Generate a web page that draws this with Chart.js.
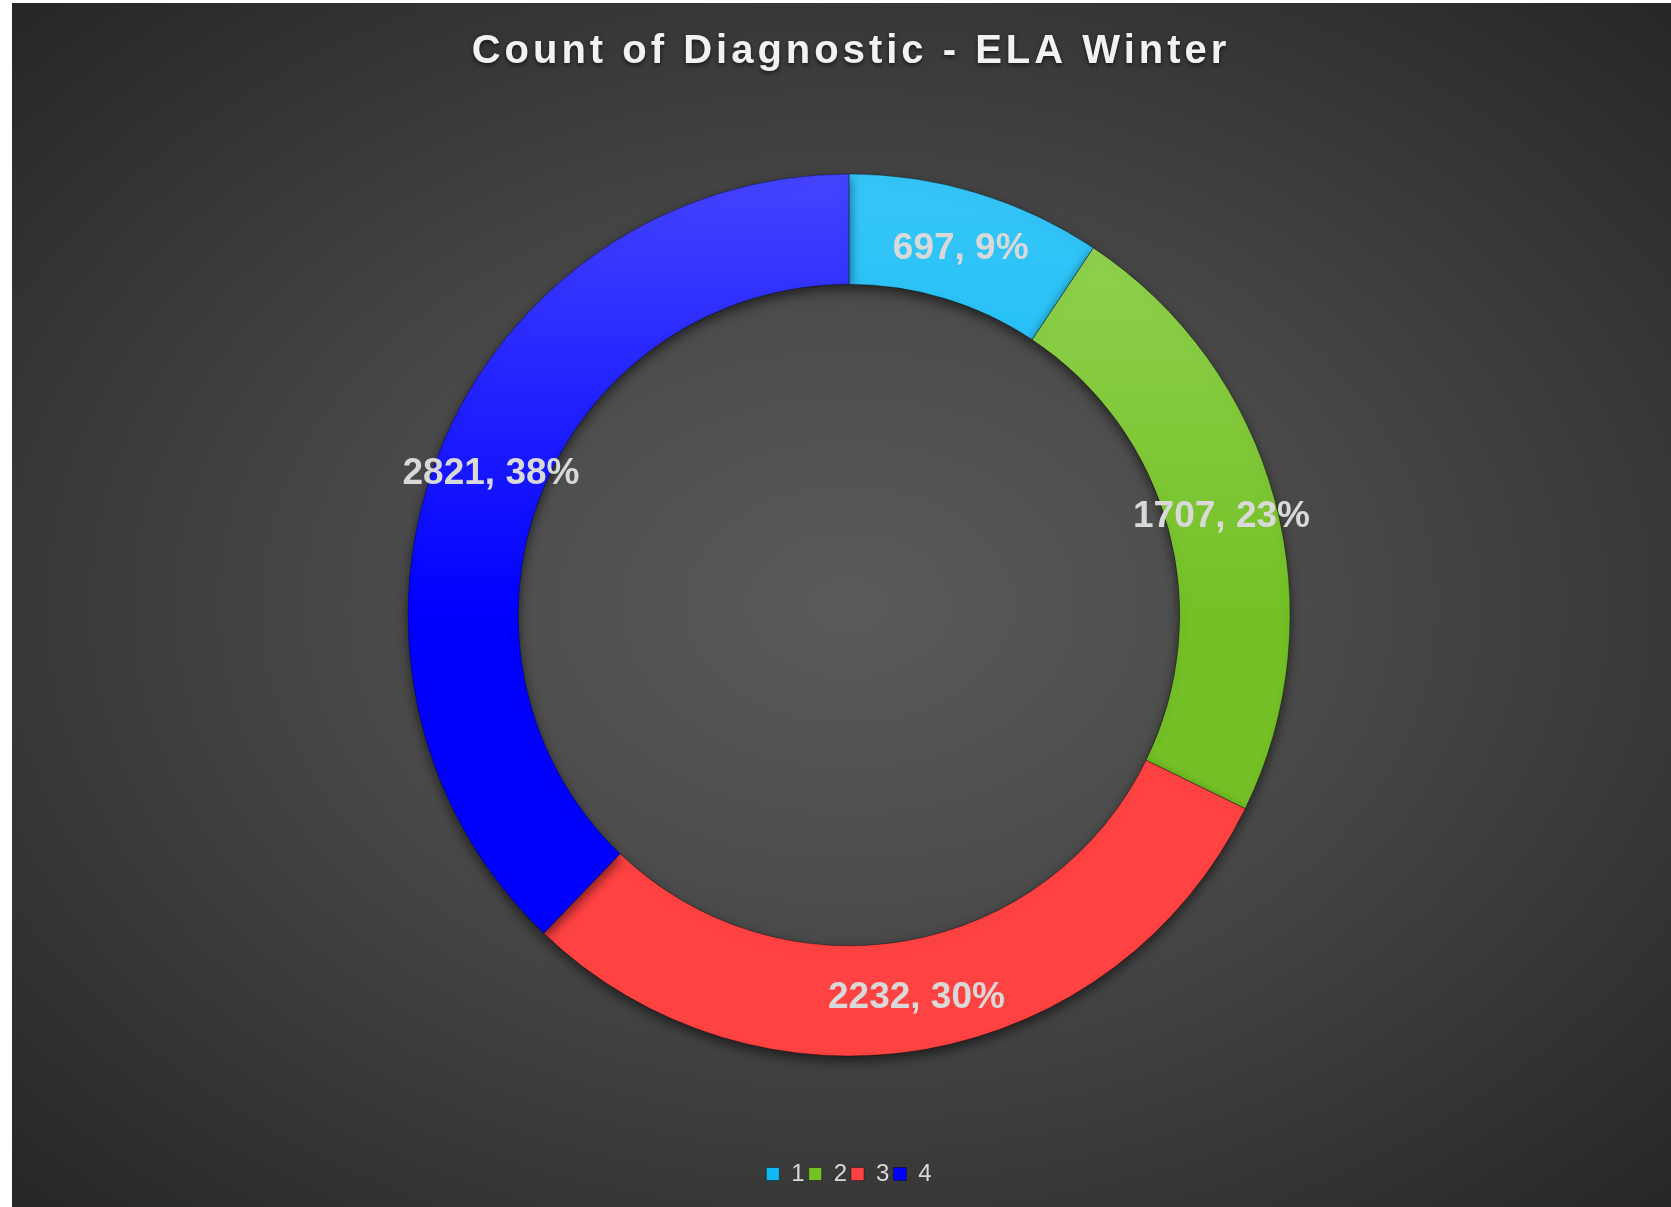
<!DOCTYPE html>
<html><head><meta charset="utf-8">
<script src="https://cdn.jsdelivr.net/npm/chart.js@4.4.1/dist/chart.umd.min.js"></script>
<style>
html,body{margin:0;padding:0;background:#fff;overflow:hidden;width:1671px;height:1207px;}
#wrap{position:absolute;left:12px;top:3px;width:1674px;height:1204px;
background:radial-gradient(ellipse farthest-corner at 50% 50%, #5a5a5a 0%, #4c4c4c 35%, #262626 100%);}
</style></head><body>
<div id="wrap"><canvas id="c"></canvas></div>
<script>
const chartTitle = 'Count of Diagnostic - ELA Winter';
const categories = ['1', '2', '3', '4'];
const counts = [697, 1707, 2232, 2821];

const baseColors = ['#12b8f2', '#74c026', '#ff4242', '#0000ff'];
const lightColors = ['#36c6f8', '#94d455', '#ff6a6a', '#4444ff'];
const FONT = '"Liberation Sans", Arial, Helvetica, sans-serif';

function sliceFill(c) {
  const i = c.dataIndex;
  const chart = c.chart, area = chart.chartArea;
  if (!area) return baseColors[i];
  const cy = (area.top + area.bottom) / 2;
  const g = chart.ctx.createLinearGradient(0, cy - 441, 0, cy + 441);
  g.addColorStop(0, lightColors[i]);
  g.addColorStop(0.5, baseColors[i]);
  g.addColorStop(1, baseColors[i]);
  return g;
}

const ringShadow = {
  id: 'ringShadow',
  beforeDatasetsDraw(chart) {
    const ctx = chart.ctx;
    ctx.save();
    ctx.shadowColor = 'rgba(0,0,0,0.55)';
    ctx.shadowBlur = 12;
    ctx.shadowOffsetX = 0;
    ctx.shadowOffsetY = 5;
  },
  afterDatasetsDraw(chart) { chart.ctx.restore(); }
};

const sliceLabels = {
  id: 'sliceLabels',
  afterDatasetsDraw(chart) {
    const ctx = chart.ctx;
    const total = counts.reduce((a, b) => a + b, 0);
    const meta = chart.getDatasetMeta(0);
    ctx.save();
    ctx.font = 'bold 37px ' + FONT;
    ctx.fillStyle = '#d9d9d9';
    ctx.textAlign = 'center';
    ctx.textBaseline = 'middle';
    meta.data.forEach((arc, i) => {
      const p = arc.tooltipPosition();
      ctx.fillText(counts[i] + ', ' + Math.round(counts[i] / total * 100) + '%', p.x, p.y + 3);
    });
    ctx.restore();
  }
};

const spacedTitle = {
  id: 'spacedTitle',
  afterDraw(chart) {
    const tb = chart.titleBlock;
    if (!tb) return;
    const ctx = chart.ctx;
    ctx.save();
    ctx.font = 'bold 40px ' + FONT;
    if ('letterSpacing' in ctx) ctx.letterSpacing = '4px';
    ctx.fillStyle = '#f2f2f2';
    ctx.textAlign = 'center';
    ctx.textBaseline = 'middle';
    ctx.shadowColor = 'rgba(0,0,0,0.6)';
    ctx.shadowBlur = 4;
    ctx.shadowOffsetY = 2;
    ctx.fillText(chartTitle, (tb.left + tb.right) / 2 + 2, tb.top + 49);
    ctx.restore();
  }
};

new Chart(document.getElementById('c'), {
  type: 'doughnut',
  data: {
    labels: categories,
    datasets: [{
      data: counts,
      backgroundColor: sliceFill,
      borderColor: 'rgba(0,0,0,0.35)',
      borderWidth: 1,
      radius: 441,
      cutout: '75%'
    }]
  },
  options: {
    responsive: true,
    maintainAspectRatio: false,
    animation: false,
    layout: { padding: { top: 0, bottom: 11, left: 0, right: 0 } },
    plugins: {
      tooltip: { enabled: false },
      title: {
        display: true,
        text: chartTitle,
        color: 'rgba(0,0,0,0)',
        font: { family: FONT, size: 40, weight: 'bold' },
        padding: { top: 20, bottom: 1 }
      },
      legend: {
        position: 'bottom',
        labels: {
          font: { family: FONT, size: 24 },
          color: '#d9d9d9',
          boxWidth: 13,
          boxHeight: 13,
          padding: 4,
          generateLabels() {
            return categories.map((c, i) => ({
              text: c, fillStyle: baseColors[i], strokeStyle: 'rgba(0,0,0,0.4)',
              lineWidth: 1, fontColor: '#d9d9d9', hidden: false, index: i, datasetIndex: 0
            }));
          }
        }
      }
    }
  },
  plugins: [ringShadow, sliceLabels, spacedTitle]
});
</script>
</body></html>
